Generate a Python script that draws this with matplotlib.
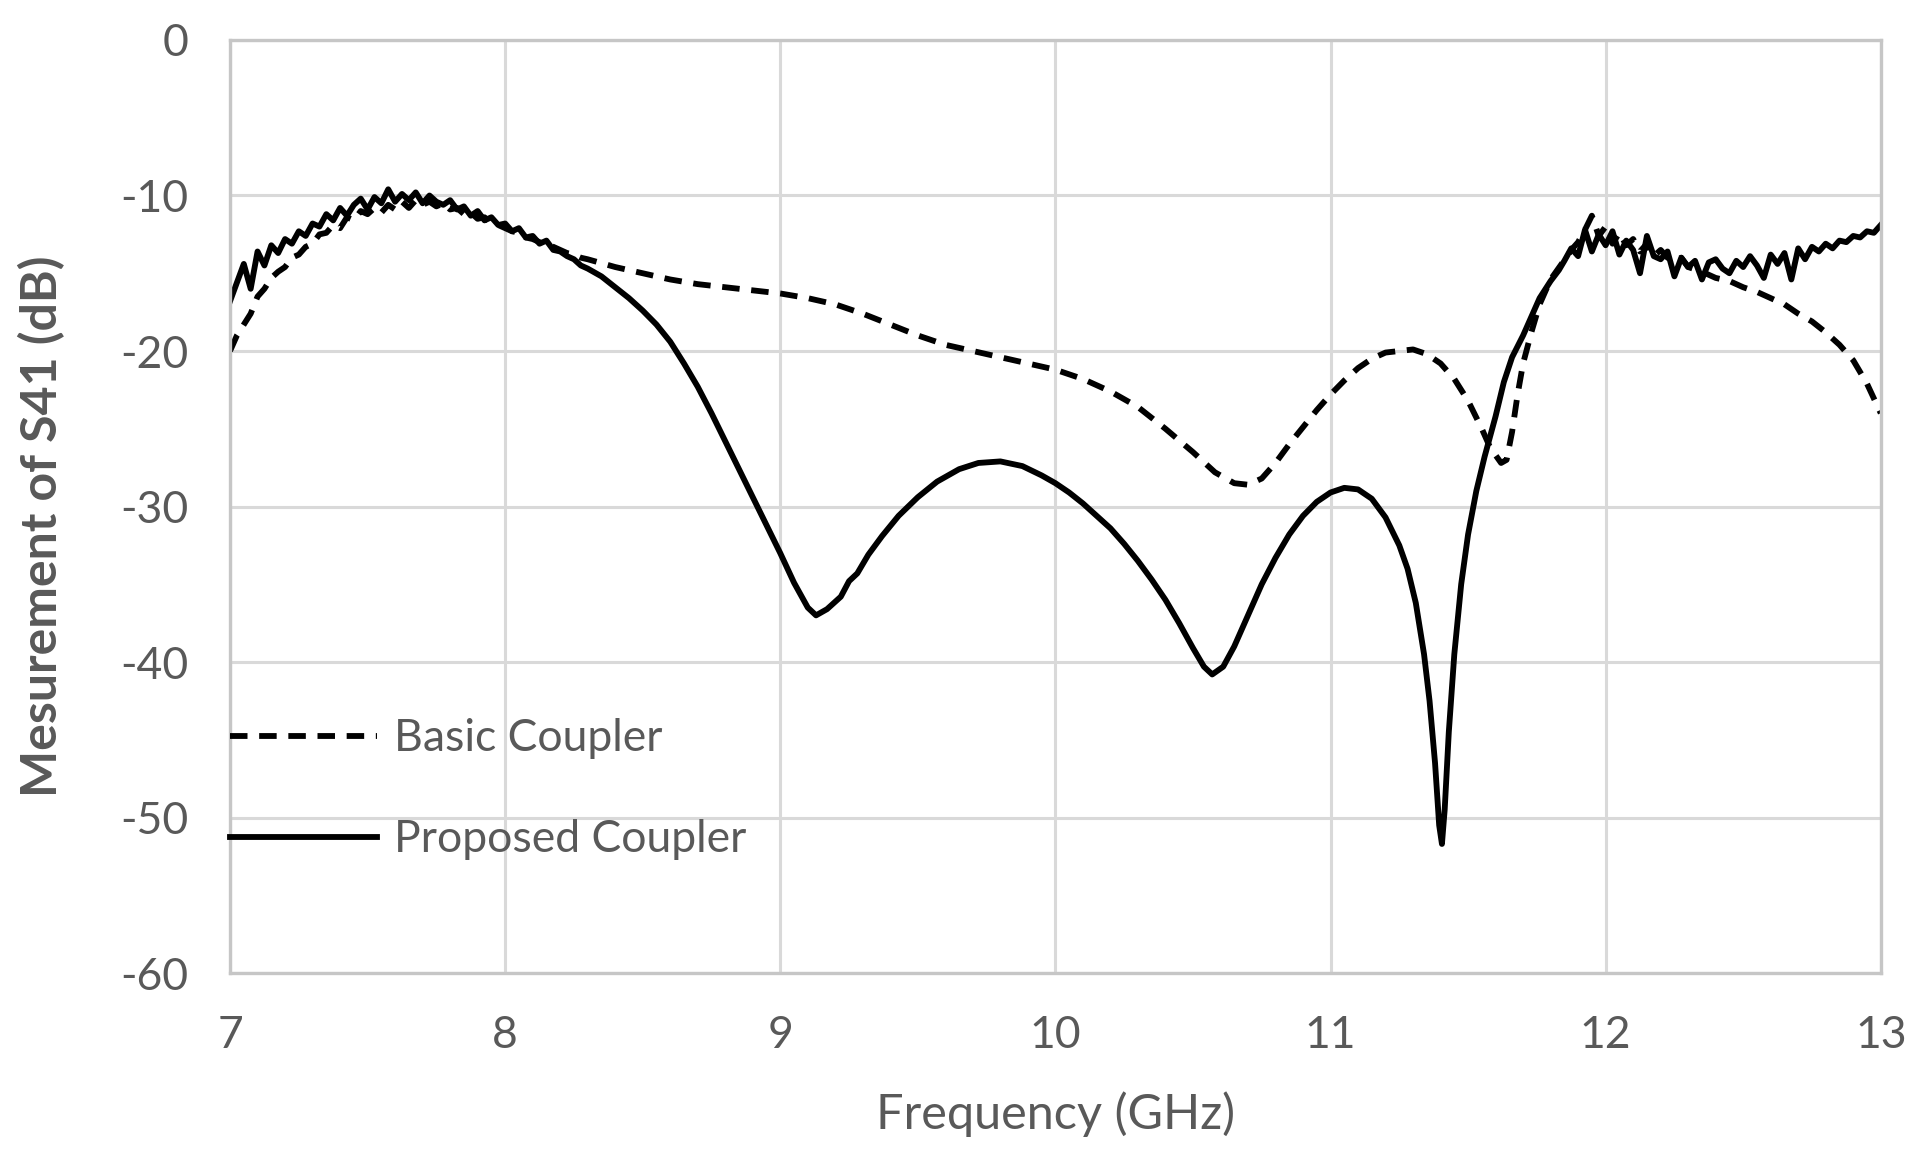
import numpy as np
import matplotlib
matplotlib.use("Agg")
import matplotlib.pyplot as plt

plt.rcParams['font.family'] = ['Lato', 'DejaVu Sans']
plt.rcParams['axes.unicode_minus'] = False

# Proposed coupler (solid)
prop_freq = [7.000, 7.025, 7.050, 7.075, 7.100, 7.125, 7.150, 7.175, 7.200, 7.225,
             7.250, 7.275, 7.300, 7.325, 7.350, 7.375, 7.400, 7.425, 7.450, 7.475,
             7.500, 7.525, 7.550, 7.575, 7.600, 7.625, 7.650, 7.675, 7.700, 7.725,
             7.750, 7.775, 7.800, 7.825, 7.850, 7.875, 7.900, 7.925, 7.950, 7.975,
             8.000, 8.025, 8.050, 8.075, 8.100, 8.125, 8.150, 8.175, 8.200, 8.225,
             8.250, 8.275, 8.300,
             8.35, 8.40, 8.45, 8.50, 8.55, 8.60, 8.65, 8.70, 8.75, 8.80, 8.85, 8.90,
             8.95, 9.00, 9.05, 9.10, 9.13, 9.17, 9.22, 9.25, 9.28, 9.32, 9.37, 9.43,
             9.50, 9.57, 9.65, 9.72, 9.80, 9.88, 9.95, 10.00, 10.05, 10.10, 10.15,
             10.20, 10.25, 10.30, 10.35, 10.40, 10.45, 10.50, 10.54, 10.57, 10.61,
             10.65, 10.70, 10.75, 10.80, 10.85, 10.90, 10.95, 11.00, 11.05, 11.10,
             11.15, 11.20, 11.25, 11.28, 11.31, 11.34, 11.36, 11.38, 11.395, 11.405,
             11.415, 11.43, 11.45, 11.475, 11.50, 11.53, 11.56, 11.60, 11.63, 11.66,
             11.70, 11.73, 11.76, 11.80, 11.83,
             11.850, 11.875, 11.900, 11.925, 11.950, 11.975, 12.000, 12.025, 12.050,
             12.075, 12.100, 12.125, 12.150, 12.175, 12.200, 12.225, 12.250, 12.275,
             12.300, 12.325, 12.350, 12.375, 12.400, 12.425, 12.450, 12.475, 12.500,
             12.525, 12.550, 12.575, 12.600, 12.625, 12.650, 12.675, 12.700, 12.725,
             12.750, 12.775, 12.800, 12.825, 12.850, 12.875, 12.900, 12.925, 12.950,
             12.975, 13.000]
prop_s41 = [-16.8, -15.6, -14.4, -16.0, -13.6, -14.5, -13.2, -13.7, -12.8, -13.1,
            -12.3, -12.6, -11.8, -12.0, -11.2, -11.6, -10.8, -11.3, -10.6, -10.2,
            -10.9, -10.1, -10.5, -9.6, -10.4, -9.9, -10.3, -9.8, -10.5, -10.0,
            -10.4, -10.6, -10.3, -10.9, -10.7, -11.3, -11.0, -11.6, -11.4, -11.9,
            -11.8, -12.3, -12.1, -12.7, -12.6, -13.1, -12.9, -13.5, -13.6, -13.9,
            -14.1, -14.5, -14.7,
            -15.2, -15.9, -16.6, -17.4, -18.3, -19.4, -20.8, -22.3, -24.0, -25.8, -27.6, -29.4,
            -31.2, -33.0, -34.9, -36.5, -37.0, -36.6, -35.8, -34.8, -34.3, -33.1, -31.9, -30.6,
            -29.4, -28.4, -27.6, -27.2, -27.1, -27.4, -28.0, -28.5, -29.1, -29.8, -30.6,
            -31.4, -32.4, -33.5, -34.7, -36.0, -37.5, -39.1, -40.3, -40.8, -40.3,
            -39.0, -37.0, -35.0, -33.3, -31.8, -30.6, -29.7, -29.1, -28.8, -28.9,
            -29.5, -30.7, -32.5, -34.0, -36.2, -39.5, -42.5, -46.5, -50.5, -51.7,
            -49.5, -44.5, -39.5, -35.0, -31.8, -29.0, -26.8, -24.2, -22.0, -20.4,
            -19.0, -17.8, -16.6, -15.5, -14.8,
            -14.2, -13.4, -13.9, -12.2, -13.6, -12.5, -13.2, -12.3, -13.8,
            -12.9, -13.5, -15.0, -12.6, -13.9, -14.1, -13.6, -15.2, -14.0,
            -14.6, -14.2, -15.4, -14.3, -14.1, -14.7, -15.0, -14.2, -14.6,
            -13.9, -14.5, -15.3, -13.8, -14.4, -13.7, -15.4, -13.4, -14.1,
            -13.3, -13.6, -13.1, -13.4, -12.9, -13.0, -12.6, -12.7, -12.3,
            -12.4, -11.9]

# Basic coupler (dashed)
basic_freq = [7.000, 7.025, 7.050, 7.075, 7.100, 7.125, 7.150, 7.175, 7.200, 7.225,
              7.250, 7.275, 7.300, 7.325, 7.350, 7.375, 7.400, 7.425, 7.450, 7.475,
              7.500, 7.525, 7.550, 7.575, 7.600, 7.625, 7.650, 7.675, 7.700, 7.725,
              7.750, 7.775, 7.800, 7.825, 7.850, 7.875, 7.900, 7.925, 7.950, 7.975,
              8.000, 8.025, 8.050, 8.075, 8.100, 8.125, 8.150, 8.175, 8.200, 8.225,
              8.250, 8.275, 8.300,
              8.40, 8.50, 8.60, 8.70, 8.80, 8.90, 9.00, 9.10, 9.20, 9.30, 9.40, 9.50,
              9.60, 9.70, 9.80, 9.90, 10.00, 10.10, 10.20, 10.30, 10.40, 10.50, 10.58,
              10.65, 10.70, 10.75, 10.80, 10.85, 10.90, 10.95, 11.00, 11.05, 11.10,
              11.15, 11.20, 11.25, 11.30, 11.35, 11.40, 11.45, 11.50, 11.55, 11.58,
              11.62, 11.64, 11.66, 11.68, 11.70, 11.73, 11.76, 11.80, 11.84, 11.88,
              11.900, 11.925, 11.950, 11.975, 12.000, 12.025, 12.050, 12.075, 12.100,
              12.125, 12.150, 12.175, 12.200, 12.225, 12.250, 12.275, 12.300,
              12.35, 12.40, 12.45, 12.50, 12.55, 12.60, 12.65, 12.70, 12.75, 12.80,
              12.85, 12.90, 12.95, 13.00]
basic_s41 = [-20.0, -19.0, -18.3, -17.6, -16.5, -16.0, -15.3, -14.9, -14.6, -14.0,
             -13.8, -13.3, -13.1, -12.5, -12.4, -11.9, -12.1, -11.4, -11.6, -11.0,
             -11.2, -10.8, -11.1, -10.6, -10.9, -10.4, -10.8, -10.3, -10.6, -10.4,
             -10.7, -10.5, -10.9, -10.8, -11.2, -11.1, -11.5, -11.4, -11.8, -11.9,
             -12.1, -12.3, -12.4, -12.7, -12.8, -13.0, -13.2, -13.3, -13.5, -13.7,
             -13.8, -14.0, -14.1,
             -14.6, -15.0, -15.4, -15.7, -15.9, -16.1, -16.3, -16.6, -17.0, -17.6, -18.3, -19.0,
             -19.6, -20.0, -20.4, -20.8, -21.2, -21.8, -22.6, -23.6, -25.0, -26.5, -27.8,
             -28.5, -28.6, -28.2, -27.2, -26.0, -24.9, -23.8, -22.8, -21.9, -21.1,
             -20.5, -20.1, -20.0, -19.9, -20.2, -20.8, -21.8, -23.2, -25.0, -26.2,
             -27.2, -27.0, -25.2, -22.8, -20.8, -18.8, -17.0, -15.4, -14.4, -13.4,
             -13.0, -12.2, -11.3, -12.6, -12.0, -13.1, -12.4, -13.2, -12.8,
             -13.6, -13.1, -13.9, -13.5, -14.0, -14.2, -14.0, -14.6,
             -14.9, -15.3, -15.5, -15.9, -16.2, -16.6, -17.0, -17.6, -18.1, -18.8,
             -19.6, -20.6, -22.1, -24.0]

x_ticks = [7, 8, 9, 10, 11, 12, 13]
y_ticks = [0, -10, -20, -30, -40, -50, -60]

text_gray = '#595959'

fig = plt.figure(figsize=(19.09, 11.66), dpi=100)
ax = fig.add_axes([0.1205, 0.1655, 0.8647, 0.8002])

ax.plot(basic_freq, basic_s41, color='black', lw=4.2, ls=(0, (3.0, 2.0)),
        label='Basic Coupler')
ax.plot(prop_freq, prop_s41, color='black', lw=4.2, label='Proposed Coupler')

ax.set_xlim(7, 13)
ax.set_ylim(-60, 0)
ax.set_xticks(x_ticks)
ax.set_yticks(y_ticks)
ax.grid(True, color='#d9d9d9', lw=2.2)
ax.set_axisbelow(True)
for s in ax.spines.values():
    s.set_color('#c6c6c6')
    s.set_linewidth(2.4)
ax.tick_params(length=0, labelsize=32, labelcolor=text_gray)
ax.tick_params(axis='x', pad=30)
ax.tick_params(axis='y', pad=30)

ax.set_xlabel('Frequency (GHz)', fontsize=35, color=text_gray, labelpad=26)
ax.set_ylabel('Mesurement of S41 (dB)', fontsize=36, color=text_gray,
              fontweight='bold')
ax.yaxis.set_label_coords(-0.1, 0.479)

leg = ax.legend(loc='upper left', bbox_to_anchor=(0.0, 0.273), frameon=False,
                fontsize=32, handlelength=3.3, handletextpad=0.4,
                labelspacing=1.35, borderpad=0, borderaxespad=0)
for t in leg.get_texts():
    t.set_color(text_gray)

fig.savefig('out.png', dpi=100)
